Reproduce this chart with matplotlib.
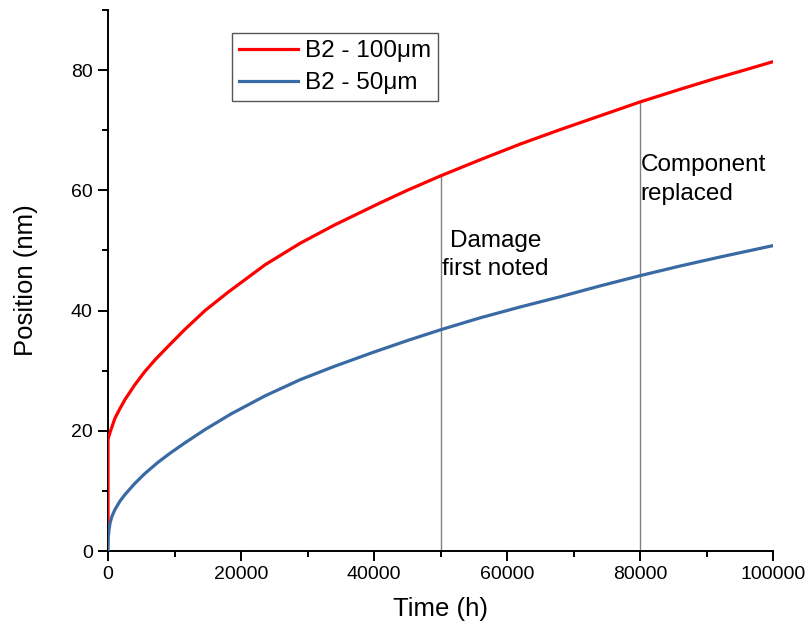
import numpy as np
import matplotlib
matplotlib.use( 'Agg' )
import matplotlib.pyplot as plt
from matplotlib import ticker as mticker

plt.rcParams['font.family'] = [ 'Liberation Sans', 'DejaVu Sans' ]

# values
t_100 = [ 0, 0, 100, 300, 700, 1050, 1800, 2560, 4000, 5500, 7070, 9000,
          11500, 14590, 18000, 23600, 28900, 34000, 40900, 45000, 50000,
          56000, 62000, 68000, 74000, 80000, 86000, 91000, 96000, 100000 ]
x_100 = [ 4.0, 18.5, 19.0, 19.7, 21.0, 22.1, 23.7, 25.2, 27.6, 29.8, 31.8, 34.0,
          36.8, 40.0, 43.0, 47.6, 51.2, 54.2, 57.9, 60.0, 62.4,
          65.1, 67.7, 70.1, 72.4, 74.7, 76.8, 78.5, 80.1, 81.4 ]

t_50 = [ 0, 50, 150, 300, 600, 1050, 1800, 2560, 4000, 5560, 7570, 9500,
         11580, 14590, 18500, 23600, 28900, 34000, 40000, 45000, 50000,
         56000, 62000, 68000, 74000, 80000, 86000, 92000, 100000 ]
x_50 = [ 0.0, 2.4, 3.5, 4.6, 5.8, 6.9, 8.3, 9.4, 11.2, 12.9, 14.8, 16.4,
         18.0, 20.2, 22.8, 25.8, 28.5, 30.7, 33.1, 35.0, 36.8,
         38.8, 40.6, 42.3, 44.1, 45.8, 47.4, 48.9, 50.8 ]

labels = [ 'B2 - 100\u03bcm', 'B2 - 50\u03bcm' ]

events_t = [ 50000, 80000 ]
events_top = [ 62.4, 74.7 ]
events_txt = [ 'Damage\nfirst noted', 'Component\nreplaced' ]

fig = plt.figure( figsize = ( 8.09, 6.32 ), dpi = 100 )
ax = fig.add_axes( [ 108/809, 81/632, 665/809, 541/632 ] )

for t, top in zip( events_t, events_top ):
    ax.plot( [ t, t ], [ 0, top ], c = '#808080', lw = 1.0, zorder = 1 )

ax.plot( t_100, x_100, c = '#ff0000', lw = 2.3, label = labels[0], zorder = 3 )
ax.plot( t_50,  x_50,  c = '#3a6aa3', lw = 2.3, label = labels[1], zorder = 3 )

ax.text( 58300, 53.4, events_txt[0], fontsize = 17.5, ha = 'center', va = 'top',
         linespacing = 1.38 )
ax.text( 80100, 66.0, events_txt[1], fontsize = 17.5, ha = 'left', va = 'top',
         linespacing = 1.38 )

ax.set_xlim( 0, 100000 )
ax.set_ylim( 0, 90 )
ax.xaxis.set_major_locator( mticker.MultipleLocator( 20000 ) )
ax.xaxis.set_minor_locator( mticker.MultipleLocator( 10000 ) )
ax.yaxis.set_major_locator( mticker.MultipleLocator( 20 ) )
ax.yaxis.set_minor_locator( mticker.MultipleLocator( 10 ) )

for side in [ 'top', 'right' ]:
    ax.spines[side].set_visible( False )
for side in [ 'left', 'bottom' ]:
    ax.spines[side].set_linewidth( 1.4 )

ax.tick_params( which = 'major', direction = 'out', length = 7, width = 1.4,
                labelsize = 14, pad = 4 )
ax.tick_params( which = 'minor', direction = 'out', length = 4, width = 1.4 )

ax.set_xlabel( 'Time (h)', fontsize = 18.5, labelpad = 10 )
ax.set_ylabel( 'Position (nm)', fontsize = 18.5, labelpad = 24 )

leg = ax.legend( loc = 'upper left', bbox_to_anchor = ( 232/809, 1 - 33/632 ),
                 bbox_transform = fig.transFigure, fontsize = 17.5,
                 fancybox = False, framealpha = 1, edgecolor = '#555555',
                 handlelength = 2.4, handletextpad = 0.3, labelspacing = 0.4,
                 borderpad = 0.3, borderaxespad = 0 )
leg.get_frame().set_linewidth( 1.0 )

fig.savefig( 'out.png', dpi = 100 )
